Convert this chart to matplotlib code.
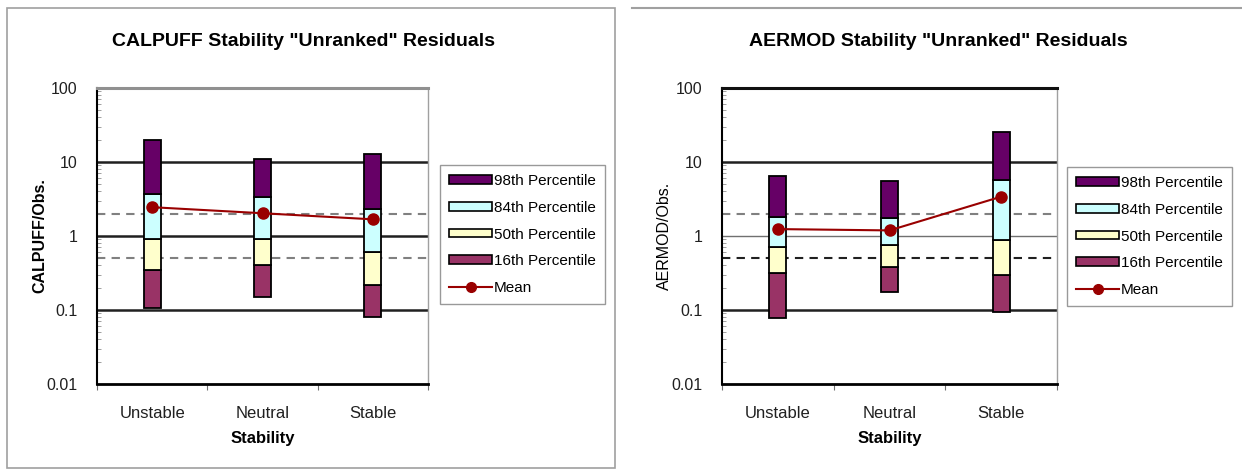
import matplotlib
matplotlib.use('Agg')
import matplotlib.pyplot as plt
import matplotlib.patches as mpatches
from matplotlib.lines import Line2D
import numpy as np

plt.rcParams['font.family'] = ['Liberation Sans', 'DejaVu Sans']

categories = ['Unstable', 'Neutral', 'Stable']

# percentile values (2nd, 16th, 50th, 84th, 98th) and mean
calpuff_p02 = [0.105, 0.15, 0.081]
calpuff_p16 = [0.35, 0.41, 0.22]
calpuff_p50 = [0.91, 0.91, 0.61]
calpuff_p84 = [3.7, 3.4, 2.3]
calpuff_p98 = [20.0, 11.0, 12.8]
calpuff_mean = [2.45, 2.03, 1.68]

aermod_p02 = [0.077, 0.177, 0.095]
aermod_p16 = [0.32, 0.38, 0.30]
aermod_p50 = [0.72, 0.75, 0.88]
aermod_p84 = [1.8, 1.77, 5.8]
aermod_p98 = [6.5, 5.6, 25.5]
aermod_mean = [1.24, 1.19, 3.4]

ref_lines = [2.0, 0.5]

seg_colors = ['#993366', '#FFFFCC', '#CCFFFF', '#660066']
seg_labels = ['16th Percentile', '50th Percentile', '84th Percentile', '98th Percentile']
mean_color = '#990000'

fig = plt.figure(figsize=(12.42, 4.71), dpi=100)

# panel frames
fig.patches.append(mpatches.Rectangle((7 / 1242, 1 - 468 / 471), 608 / 1242, 460 / 471,
                                      transform=fig.transFigure, fill=False,
                                      edgecolor='#a0a0a0', lw=1.2))
fig.lines.append(Line2D([632 / 1242, 1.0], [1 - 8 / 471, 1 - 8 / 471],
                        transform=fig.transFigure, color='#a0a0a0', lw=1.5))


def draw(ax, p02, p16, p50, p84, p98, mean, ylabel, dark_one, ylab_bold):
    x = np.arange(len(categories))
    bounds = [p02, p16, p50, p84, p98]
    for i in range(4):
        lo = np.array(bounds[i])
        hi = np.array(bounds[i + 1])
        ax.bar(x, hi - lo, bottom=lo, width=0.155, color=seg_colors[i],
               edgecolor='black', lw=1.3, zorder=3)
    ax.plot(x, mean, color=mean_color, lw=1.5, marker='o', ms=8, zorder=4)

    ax.set_yscale('log')
    ax.set_ylim(0.01, 100)
    ax.set_xlim(-0.5, 2.5)

    for v in [10, 0.1]:
        ax.axhline(v, color='#202020', lw=1.8, zorder=1)
    if dark_one:
        ax.axhline(1, color='#202020', lw=1.8, zorder=1)
        dash_cols = ['#808080', '#808080']
        top_col = '#909090'
    else:
        ax.axhline(1, color='#707070', lw=1.0, zorder=1)
        dash_cols = ['#808080', '#202020']
        top_col = '#101010'
    for v, c in zip(ref_lines, dash_cols):
        ax.axhline(v, color=c, lw=1.5, ls=(0, (4, 3)), zorder=2)

    ax.spines['top'].set_color(top_col)
    ax.spines['top'].set_linewidth(2.2)
    ax.spines['right'].set_color('#a0a0a0')
    ax.spines['right'].set_linewidth(1.0)
    ax.spines['left'].set_color('black')
    ax.spines['left'].set_linewidth(1.5)
    ax.spines['bottom'].set_color('black')
    ax.spines['bottom'].set_linewidth(2.0)

    ax.set_yticks([0.01, 0.1, 1, 10, 100])
    ax.set_yticklabels(['0.01', '0.1', '1', '10', '100'])
    ax.tick_params(axis='y', which='major', length=0, labelsize=11.5, pad=14,
                   labelcolor='#202020')
    ax.tick_params(axis='y', which='minor', direction='in', length=3, width=0.6,
                   color='#909090')
    ax.set_xticks([-0.5, 0.5, 1.5, 2.5])
    ax.set_xticklabels([])
    ax.set_xticks(x, minor=True)
    ax.set_xticklabels(categories, minor=True)
    ax.tick_params(axis='x', which='major', length=4, width=0.8, color='#707070')
    ax.tick_params(axis='x', which='minor', length=0, labelsize=12, pad=16,
                   labelcolor='#202020')

    ax.set_xlabel('Stability', fontsize=12, fontweight='bold', labelpad=7)
    ax.set_ylabel(ylabel, fontsize=11.5, fontweight='bold' if ylab_bold else 'normal')
    ax.yaxis.set_label_coords(-0.15, 0.5)


ax1 = fig.add_axes([97 / 1242, 1 - 384 / 471, 331 / 1242, 296 / 471])
draw(ax1, calpuff_p02, calpuff_p16, calpuff_p50, calpuff_p84, calpuff_p98, calpuff_mean,
     'CALPUFF/Obs.', True, True)
fig.text(304 / 1242, 1 - 42 / 471, 'CALPUFF Stability "Unranked" Residuals',
         fontsize=14, fontweight='bold', ha='center', va='center')

ax2 = fig.add_axes([722 / 1242, 1 - 384 / 471, 335 / 1242, 296 / 471])
draw(ax2, aermod_p02, aermod_p16, aermod_p50, aermod_p84, aermod_p98, aermod_mean,
     'AERMOD/Obs.', False, False)
fig.text(938 / 1242, 1 - 42 / 471, 'AERMOD Stability "Unranked" Residuals',
         fontsize=14, fontweight='bold', ha='center', va='center')

# legends
handles = [mpatches.Patch(facecolor=seg_colors[i], edgecolor='black', lw=1.2)
           for i in [3, 2, 1, 0]]
handles.append(Line2D([], [], color=mean_color, lw=1.5, marker='o', ms=7))
labels = [seg_labels[i] for i in [3, 2, 1, 0]] + ['Mean']

for anchor in [(440 / 1242, 1 - 165 / 471), (1067 / 1242, 1 - 167 / 471)]:
    leg = fig.legend(handles, labels, loc='upper left', bbox_to_anchor=anchor,
                     frameon=True, fancybox=False, edgecolor='#808080',
                     fontsize=11, handlelength=2.8, handleheight=0.5,
                     handletextpad=0.15, labelspacing=0.83, borderpad=0.6,
                     borderaxespad=0)
    leg.get_frame().set_linewidth(1.0)

fig.savefig('out.png', dpi=100)
